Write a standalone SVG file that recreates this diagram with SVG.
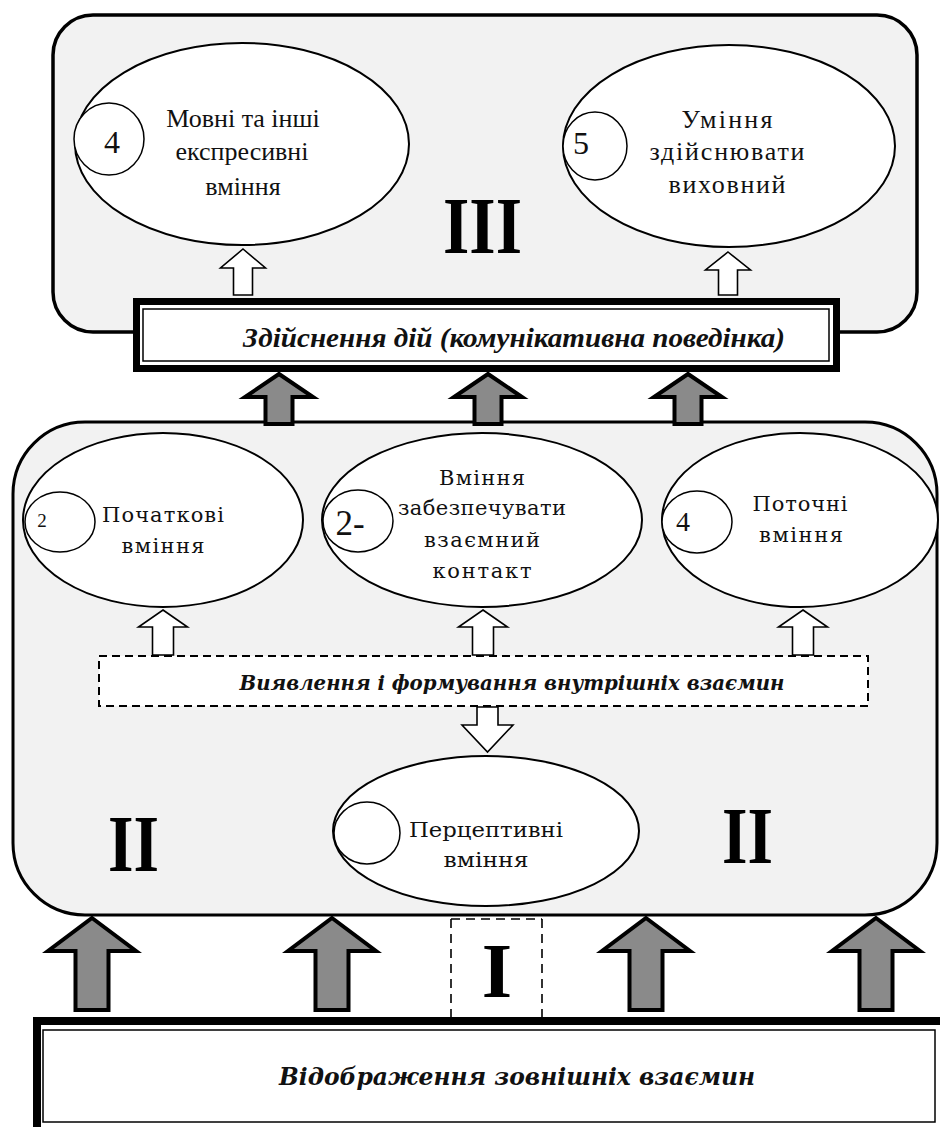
<svg xmlns="http://www.w3.org/2000/svg" width="940" height="1127" viewBox="0 0 940 1127">
<style>
.panel{fill:#f2f2f2;stroke:#000;stroke-width:3.5}
.ell{fill:#fff;stroke:#000;stroke-width:2}
.circ{fill:#fff;stroke:#000;stroke-width:1.5}
.hol{fill:#fff;stroke:#000;stroke-width:1.6;stroke-linejoin:miter}
.grey{fill:#8a8a8a;stroke:#000;stroke-width:4;stroke-linejoin:miter}
.tn{font-family:"Liberation Serif","Times New Roman",serif;font-size:26px;fill:#111;text-anchor:middle}
.cb{font-family:"DejaVu Serif",serif;font-size:21px;fill:#111;text-anchor:middle}
.roman{font-family:"Liberation Serif","Times New Roman",serif;font-weight:bold;font-size:80px;fill:#000}
.dash{fill:#fff;stroke:#000;stroke-width:2;stroke-dasharray:8 5}
</style>

<g id="panel-III">
<rect class="panel" x="53" y="15" width="864" height="317" rx="40" ry="40"/>
<text class="roman" x="443" y="253" textLength="79" lengthAdjust="spacingAndGlyphs">III</text>
</g>

<g id="node-speech">
<ellipse class="ell" cx="242" cy="144" rx="167" ry="101"/>
<ellipse class="circ" cx="109" cy="139" rx="35" ry="36"/>
<text class="tn" x="112" y="153" style="font-size:32px">4</text>
<text class="tn" x="243" y="127">Мовні та інші</text>
<text class="tn" x="242" y="160">експресивні</text>
<text class="tn" x="243" y="195">вміння</text>
</g>

<g id="node-educate">
<ellipse class="ell" cx="729" cy="146" rx="166" ry="101"/>
<ellipse class="circ" cx="595" cy="146" rx="32" ry="34"/>
<text class="tn" x="581" y="154" style="font-size:32px">5</text>
<text class="tn" x="727" y="128" textLength="91">Уміння</text>
<text class="tn" x="727" y="160" textLength="155">здійснювати</text>
<text class="tn" x="727" y="193" textLength="117">виховний</text>
</g>

<g id="panel-II">
<rect class="panel" x="13" y="422" width="924" height="493" rx="72" ry="72" style="stroke-width:3"/>
<text class="roman" x="108" y="871" textLength="51" lengthAdjust="spacingAndGlyphs">II</text>
<text class="roman" x="722" y="863" textLength="51" lengthAdjust="spacingAndGlyphs">II</text>
</g>

<g id="bar-action">
<rect x="136.5" y="301.5" width="700" height="67" fill="#fff" stroke="#000" stroke-width="7"/>
<rect x="143" y="309" width="686" height="52" fill="none" stroke="#000" stroke-width="1.5"/>
<text x="243" y="347" font-family="Liberation Serif, Times New Roman, serif" font-weight="bold" font-style="italic" font-size="28" fill="#111" textLength="542" lengthAdjust="spacingAndGlyphs">Здійснення дій (комунікативна поведінка)</text>
</g>

<g id="node-initial">
<ellipse class="ell" cx="163" cy="520" rx="140" ry="87"/>
<ellipse class="circ" cx="60" cy="522" rx="35" ry="30"/>
<text class="tn" x="42" y="527" style="font-size:19px">2</text>
<text class="cb" x="163" y="522" textLength="122">Початкові</text>
<text class="cb" x="163" y="553" textLength="83">вміння</text>
</g>

<g id="node-contact">
<ellipse class="ell" cx="482" cy="520" rx="160" ry="87"/>
<ellipse class="circ" cx="358" cy="521" rx="35" ry="31"/>
<text class="tn" x="350" y="535" style="font-size:35px">2-</text>
<text class="cb" x="482" y="485" textLength="86">Вміння</text>
<text class="cb" x="482" y="515" textLength="168">забезпечувати</text>
<text class="cb" x="482" y="547" textLength="116">взаємний</text>
<text class="cb" x="482" y="578" textLength="99">контакт</text>
</g>

<g id="node-current">
<ellipse class="ell" cx="800" cy="520" rx="138" ry="87"/>
<ellipse class="circ" cx="697" cy="522" rx="35" ry="31"/>
<text class="tn" x="683" y="531" style="font-size:28px">4</text>
<text class="cb" x="800" y="511" textLength="95">Поточні</text>
<text class="cb" x="801" y="542" textLength="84">вміння</text>
</g>

<g id="box-inner">
<rect class="dash" x="99" y="656" width="769" height="50"/>
<text x="512" y="690" font-family="DejaVu Serif, serif" font-weight="bold" font-style="italic" font-size="21" fill="#111" text-anchor="middle" textLength="545" lengthAdjust="spacingAndGlyphs">Виявлення і формування внутрішніх взаємин</text>
</g>

<g id="node-perceptive">
<ellipse class="ell" cx="486" cy="831" rx="153" ry="75"/>
<ellipse class="circ" cx="367" cy="833" rx="33" ry="31"/>
<text class="cb" x="486" y="837" textLength="154" lengthAdjust="spacingAndGlyphs">Перцептивні</text>
<text class="cb" x="486" y="867" textLength="85" lengthAdjust="spacingAndGlyphs">вміння</text>
</g>

<g id="box-I">
<path d="M451 919 V1017 M542 919 V1017 M451 919 H542" fill="none" stroke="#000" stroke-width="1.6" stroke-dasharray="9 6"/>
<text class="roman" x="497" y="997" text-anchor="middle" style="font-size:78px">I</text>
</g>

<g id="bar-external">
<rect x="37" y="1021" width="910" height="112" fill="#fff" stroke="#000" stroke-width="8"/>
<rect x="43" y="1030" width="892" height="92" fill="none" stroke="#000" stroke-width="1.5"/>
<text x="517" y="1085" font-family="DejaVu Serif, serif" font-weight="bold" font-style="italic" font-size="25" fill="#111" text-anchor="middle" textLength="476" lengthAdjust="spacingAndGlyphs">Відображення зовнішніх взаємин</text>
</g>

<g id="connectors">
<path class="hol" d="M243 249 L265.5 268 H252.5 V295 H233.5 V268 H220.5 Z"/>
<path class="hol" d="M728 252 L750.5 270 H737.5 V295 H718.5 V270 H705.5 Z"/>
<path class="grey" d="M279 374 L313 397 H292.5 V424 H265.5 V397 H245 Z"/>
<path class="grey" d="M488 374 L522 397 H501.5 V424 H474.5 V397 H454 Z"/>
<path class="grey" d="M688 374 L722 397 H701.5 V424 H674.5 V397 H654 Z"/>
<path class="hol" d="M163 610 L187.5 627 H173.5 V655 H152.5 V627 H138.5 Z"/>
<path class="hol" d="M483 610 L507.5 627 H493.5 V655 H472.5 V627 H458.5 Z"/>
<path class="hol" d="M803 610 L827.5 627 H813.5 V655 H792.5 V627 H778.5 Z"/>
<path class="hol" d="M477 707 H498 V725 H513 L487.5 752 L462 725 H477 Z"/>
<path class="grey" d="M92 918 L136 951 H108.5 V1010 H75.5 V951 H48 Z"/>
<path class="grey" d="M332 918 L376 951 H348.5 V1010 H315.5 V951 H288 Z"/>
<path class="grey" d="M646 918 L690 951 H662.5 V1010 H629.5 V951 H602 Z"/>
<path class="grey" d="M876 918 L920 951 H892.5 V1010 H859.5 V951 H832 Z"/>
</g>
</svg>
